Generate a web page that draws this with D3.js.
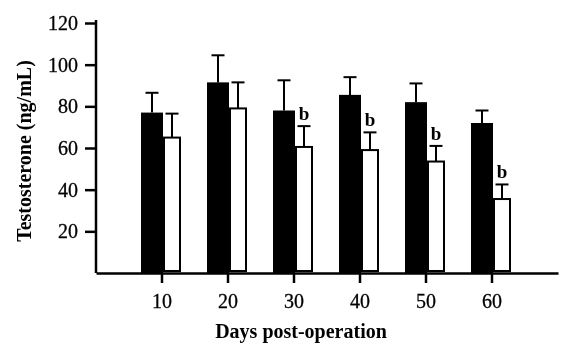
<!DOCTYPE html>
<html lang="en">
<head>
    <meta charset="UTF-8">
    <title>Testosterone by days post-operation</title>
    <style>
        body {
            margin: 0;
            padding: 0;
            background-color: #fff;
        }
        svg {
            will-change: transform;
        }
        svg text {
            font-family: 'Liberation Serif', 'Times New Roman', serif;
            fill: #000;
        }
        .axis text {
            font-size: 20px;
            stroke: #000;
            stroke-width: 0.3px;
        }
        .axis-title {
            font-size: 20px;
            font-weight: bold;
        }
        .sig {
            font-size: 19px;
            font-weight: bold;
            text-anchor: middle;
        }
    </style>
</head>
<body>
    <div id="chart"></div>

    <script src="https://d3js.org/d3.v7.min.js"></script>
    <script>
        const days = ["10", "20", "30", "40", "50", "60"];
        const blackMeans = [77, 91.5, 78, 85.5, 82, 72];
        const blackErr = [9.5, 13, 14.5, 8.5, 9, 6];
        const whiteMeans = [65, 79, 60.5, 59, 53.5, 35.5];
        const whiteErr = [11.5, 12.5, 10, 8.5, 7.5, 7];
        const sigMarks = ["", "", "b", "b", "b", "b"];
        const yTicks = [20, 40, 60, 80, 100, 120];

        const data = days.map((d, i) => ({
            day: d,
            black: blackMeans[i], blackErr: blackErr[i],
            white: whiteMeans[i], whiteErr: whiteErr[i],
            sig: sigMarks[i]
        }));

        const width = 567, height = 353;

        const svg = d3.select("#chart").append("svg")
            .attr("width", width)
            .attr("height", height);

        const x = d3.scaleBand()
            .domain(days)
            .range([96, 558])
            .paddingInner(0)
            .paddingOuter(0.5);

        const y = d3.scaleLinear()
            .domain([0, 120])
            .range([273, 23]);

        const center = d => x(d.day) + x.bandwidth() / 2;

        // black bars (left of tick)
        svg.selectAll(".bar-black")
            .data(data)
            .enter().append("rect")
            .attr("class", "bar-black")
            .attr("x", d => center(d) - 21)
            .attr("y", d => y(d.black))
            .attr("width", 22)
            .attr("height", d => y(0) - y(d.black))
            .attr("fill", "#000");

        // white bars (right of tick)
        svg.selectAll(".bar-white")
            .data(data)
            .enter().append("rect")
            .attr("class", "bar-white")
            .attr("x", d => center(d) + 2)
            .attr("y", d => y(d.white))
            .attr("width", 16)
            .attr("height", d => y(0) - 2 - y(d.white))
            .attr("fill", "#fff")
            .attr("stroke", "#000")
            .attr("stroke-width", 2);

        // error bars, upward only
        const errs = [];
        data.forEach(d => {
            errs.push({ cx: center(d) - 10, top: d.black + d.blackErr, base: d.black });
            errs.push({ cx: center(d) + 10, top: d.white + d.whiteErr, base: d.white });
        });

        const eg = svg.append("g")
            .attr("stroke", "#000")
            .attr("stroke-width", 2);

        eg.selectAll(".err-line")
            .data(errs)
            .enter().append("line")
            .attr("x1", d => d.cx)
            .attr("x2", d => d.cx)
            .attr("y1", d => y(d.base))
            .attr("y2", d => y(d.top));

        eg.selectAll(".err-cap")
            .data(errs)
            .enter().append("line")
            .attr("x1", d => d.cx - 6.5)
            .attr("x2", d => d.cx + 6.5)
            .attr("y1", d => y(d.top))
            .attr("y2", d => y(d.top));

        // significance letters
        svg.selectAll(".sig")
            .data(data.filter(d => d.sig))
            .enter().append("text")
            .attr("class", "sig")
            .attr("x", d => center(d) + 10)
            .attr("y", d => y(d.white + d.whiteErr) - 6)
            .text(d => d.sig);

        // axes
        const xAxis = svg.append("g")
            .attr("class", "axis")
            .attr("transform", `translate(0,${y(0)})`)
            .call(d3.axisBottom(x).tickSize(10).tickSizeOuter(0).tickPadding(11));
        xAxis.select(".domain").attr("stroke-width", 2.5);
        xAxis.selectAll(".tick line").attr("stroke-width", 2.5);

        const yAxis = svg.append("g")
            .attr("class", "axis")
            .attr("transform", `translate(96,0)`)
            .call(d3.axisLeft(y).tickValues(yTicks).tickSize(11).tickSizeOuter(0).tickPadding(7));
        yAxis.select(".domain")
            .attr("d", `M0,${y(0)}V20`)
            .attr("stroke-width", 2.5);
        yAxis.selectAll(".tick line").attr("stroke-width", 2.5);
        svg.selectAll(".axis text").attr("font-family", null).attr("font-size", null);

        svg.append("text")
            .attr("class", "axis-title")
            .attr("text-anchor", "middle")
            .attr("x", 301)
            .attr("y", 338)
            .text("Days post-operation");

        svg.append("text")
            .attr("class", "axis-title")
            .attr("text-anchor", "middle")
            .attr("transform", "translate(31,151) rotate(-90)")
            .text("Testosterone (ng/mL)");
    </script>
</body>
</html>
